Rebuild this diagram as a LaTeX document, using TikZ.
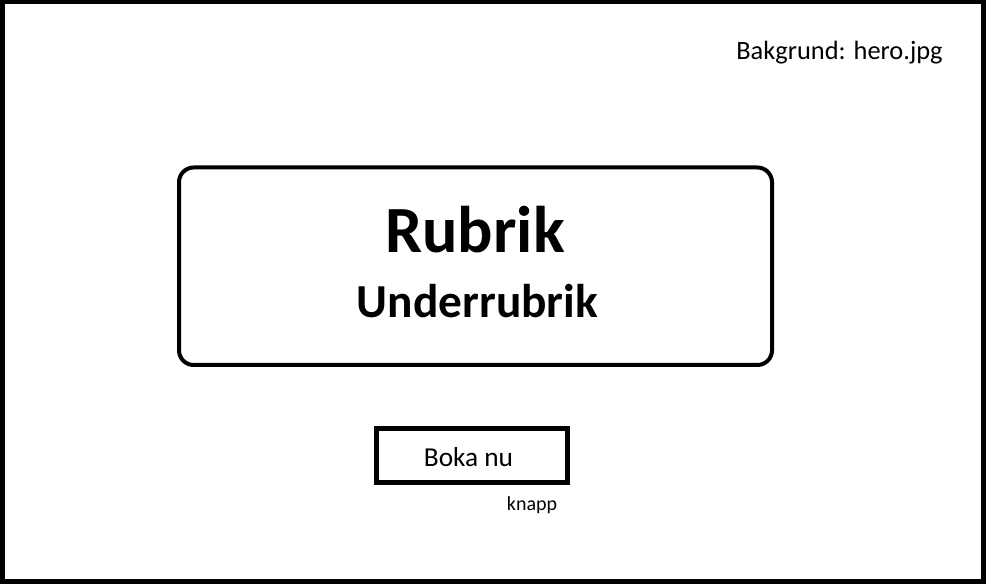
\documentclass[tikz,border=0pt]{standalone}
\usepackage{fontspec}
\setmainfont{Carlito}
\begin{document}
\begin{tikzpicture}[x=0.75pt,y=-0.75pt,
  frame/.style={draw=black,line width=3.75pt},
  card/.style={draw=black,line width=3pt,rounded corners=11pt},
  btn/.style={draw=black,line width=3.75pt},
  lbl/.style={inner sep=0pt,anchor=base}]
\useasboundingbox (0,0) rectangle (986,584);
\draw[frame] (2.5,2) rectangle (983.5,582);
\draw[card] (179,167.5) rectangle (772,365);
\draw[btn] (376.5,428.5) rectangle (567.5,482.5);
\node[lbl,font=\fontsize{49.5pt}{53pt}\selectfont\bfseries] (title) at (475,253) {Rubrik};
\node[lbl,font=\fontsize{35.5pt}{38pt}\selectfont\bfseries] (sub) at (477.5,318) {Underrubrik};
\node[lbl,font=\fontsize{19.8pt}{22pt}\selectfont] (bg) at (839.5,60) {Bakgrund: hero.jpg};
\node[lbl,font=\fontsize{20.5pt}{23pt}\selectfont] (boka) at (468.5,467) {Boka nu};
\node[lbl,font=\fontsize{15pt}{17pt}\selectfont] (knapp) at (532,511) {knapp};
\end{tikzpicture}
\end{document}
